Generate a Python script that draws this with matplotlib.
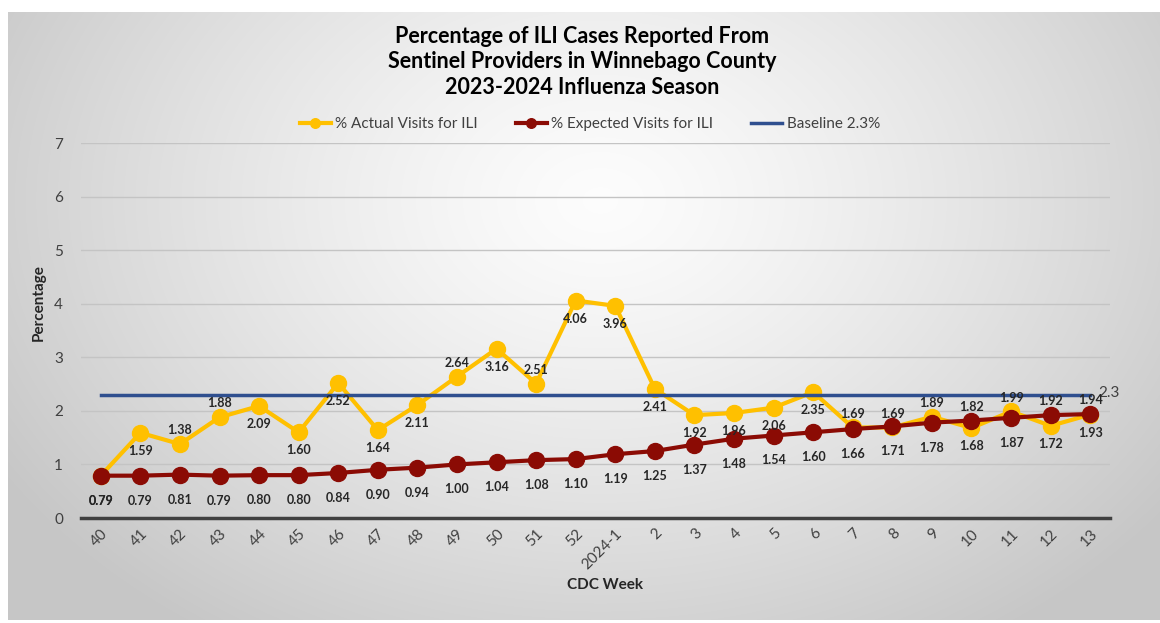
import numpy as np
import matplotlib
matplotlib.use("Agg")
import matplotlib.pyplot as plt

weeks = ["40", "41", "42", "43", "44", "45", "46", "47", "48", "49", "50", "51", "52",
         "2024-1", "2", "3", "4", "5", "6", "7", "8", "9", "10", "11", "12", "13"]
actual = [0.79, 1.59, 1.38, 1.88, 2.09, 1.60, 2.52, 1.64, 2.11, 2.64, 3.16, 2.51, 4.06,
          3.96, 2.41, 1.92, 1.96, 2.06, 2.35, 1.69, 1.69, 1.89, 1.68, 1.99, 1.72, 1.93]
expected = [0.79, 0.79, 0.81, 0.79, 0.80, 0.80, 0.84, 0.90, 0.94, 1.00, 1.04, 1.08, 1.10,
            1.19, 1.25, 1.37, 1.48, 1.54, 1.60, 1.66, 1.71, 1.78, 1.82, 1.87, 1.92, 1.94]
baseline = 2.3
# label placement for actual series: 1 = above, -1 = below, 0 = same spot as expected label
actual_pos = [0, -1, 1, 1, -1, -1, -1, -1, -1, 1, -1, 1, -1,
              -1, -1, -1, -1, -1, -1, 1, 1, 1, -1, 1, -1, -1]
expected_pos = [-1] * 22 + [1, -1, 1, 1]

plt.rcParams['font.family'] = ['Lato', 'DejaVu Sans']

W, H = 1160, 623
fig = plt.figure(figsize=(W / 100, H / 100), dpi=100)

# background radial gradient
bg = fig.add_axes([0, 0, 1, 1], zorder=-10)
yy, xx = np.mgrid[0:H, 0:W]
cx, cy = 600, 200
r = np.sqrt(((xx - cx) / 700.0) ** 2 + ((yy - cy) / 520.0) ** 2)
r = np.clip(r, 0, 1)
val = 0.99 - 0.21 * r ** 1.3
img = np.dstack([val, val, val])
img[:12, :, :] = 1.0
img[:, :8, :] = 1.0
img[H - 3:, :, :] = 1.0
bg.imshow(img, aspect='auto', extent=[0, 1, 0, 1], origin='upper')
bg.axis('off')

ax = fig.add_axes([81 / W, 1 - 518 / H, (1110 - 81) / W, (518 - 143) / H])
ax.set_facecolor('none')
x = np.arange(len(weeks))

ax.set_xlim(-0.5, len(weeks) - 0.5)
ax.set_ylim(0, 7)
ax.set_yticks(range(0, 8))
ax.grid(axis='y', color='#c4c4c4', linewidth=1.0)
ax.set_axisbelow(True)
for s in ['top', 'right', 'left']:
    ax.spines[s].set_visible(False)
ax.spines['bottom'].set_color('#404040')
ax.spines['bottom'].set_linewidth(2.5)
ax.tick_params(axis='both', length=0, colors='#404040', labelsize=11)
ax.tick_params(axis='y', pad=13)
ax.set_xticks(x)
ax.set_xticklabels(weeks, rotation=45, ha='right', va='top', rotation_mode='anchor')
ax.tick_params(axis='x', pad=6)

yel = '#FFC000'
red = '#8B0B04'
blue = '#2F4F8F'

ax.plot(x, actual, color=yel, lw=3, marker='o', ms=11.5, zorder=3,
        label='% Actual Visits for ILI')
ax.plot(x, [baseline] * len(x), color=blue, lw=2.5, zorder=4, label='Baseline 2.3%')
ax.plot(x, expected, color=red, lw=3, marker='o', ms=11.5, zorder=5,
        label='% Expected Visits for ILI')

for i, (v, p) in enumerate(zip(expected, expected_pos)):
    off = 10 if p > 0 else -18
    ax.annotate(f"{v:.2f}", (i, v), xytext=(0, off), textcoords='offset points',
                ha='center', va='center', fontsize=9, fontweight='bold', color='#262626', zorder=6)
for i, (v, p) in enumerate(zip(actual, actual_pos)):
    if p == 0:
        ax.annotate(f"{v:.2f}", (i, expected[i]), xytext=(0, -18), textcoords='offset points',
                    ha='center', va='center', fontsize=9, fontweight='bold', color='#262626', zorder=6)
        continue
    off = 10 if p > 0 else -13
    ax.annotate(f"{v:.2f}", (i, v), xytext=(0, off), textcoords='offset points',
                ha='center', va='center', fontsize=9, fontweight='bold', color='#262626', zorder=6)
ax.annotate("2.3", (len(x) - 1, baseline), xytext=(6, 1), textcoords='offset points',
            ha='left', va='center', fontsize=11, color='#404040')

handles, labels = ax.get_legend_handles_labels()
order = [0, 2, 1]
fig.legend([handles[i] for i in order], [labels[i] for i in order],
           loc='center', bbox_to_anchor=(590 / W, 1 - 124 / H), ncol=3, frameon=False,
           fontsize=11, handlelength=2.0, columnspacing=2.5, handletextpad=0.3,
           markerscale=0.6, labelcolor='#404040')

fig.text(582 / W, 1 - 62 / H,
         "Percentage of ILI Cases Reported From\nSentinel Providers in Winnebago County\n2023-2024 Influenza Season",
         ha='center', va='center', fontsize=15.5, fontweight='bold', color='#000000', linespacing=1.25)

ax.set_ylabel("Percentage", fontsize=11, fontweight='bold', color='#262626')
ax.yaxis.set_label_coords((46 - 81) / (1110 - 81), (518 - 303) / (518 - 143))
fig.text(605 / W, 1 - 585 / H, "CDC Week", ha='center', va='center', fontsize=11,
         fontweight='bold', color='#262626')

fig.savefig("out.png", dpi=100)
